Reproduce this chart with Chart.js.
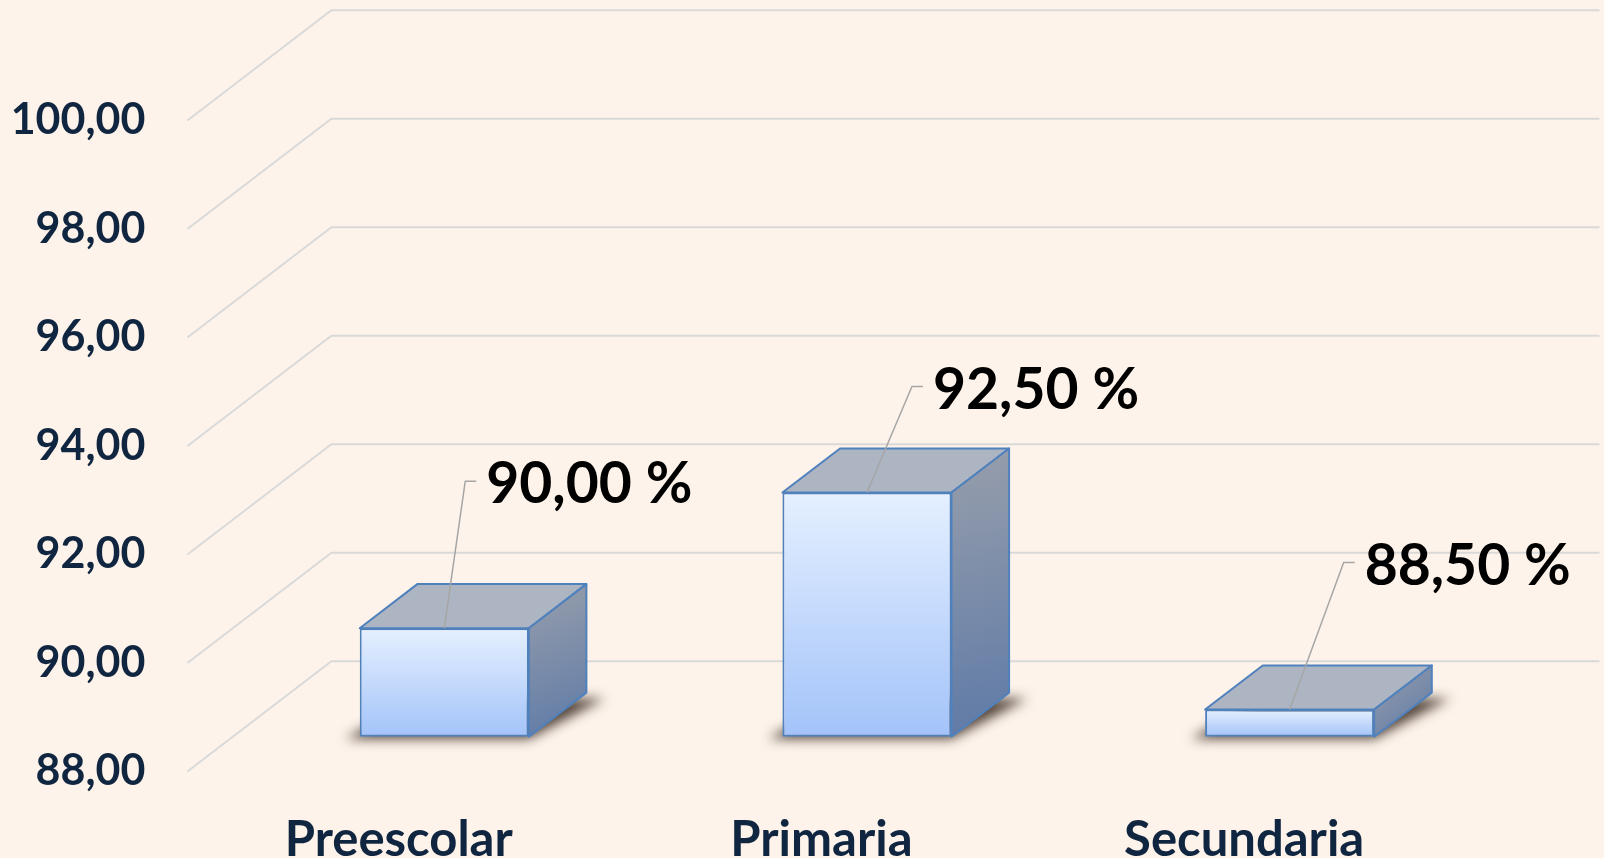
<!DOCTYPE html>
<html lang="es">
<head>
    <meta charset="UTF-8">
    <title>Porcentaje por nivel educativo</title>
    <style>
        * {
            margin: 0;
            padding: 0;
            box-sizing: border-box;
        }

        body {
            background-color: #FDF3EA;
            width: 1604px;
            height: 858px;
            overflow: hidden;
        }

        .chart-box {
            position: relative;
            width: 1604px;
            height: 858px;
        }
    </style>
    <script src="https://cdn.jsdelivr.net/npm/chart.js"></script>
</head>
<body>
    <div class="chart-box">
        <canvas id="levelsChart"></canvas>
    </div>

    <script>
        // Data
        const categories = ['Preescolar', 'Primaria', 'Secundaria'];
        const values = [90.00, 92.50, 88.50];
        const yMin = 88;
        const yMax = 100;
        const yStep = 2;

        // Where each value label sits, relative to the top front centre of its bar
        const labelOffsets = [
            { ex: 21, ey: -147, hx: 32, tx: 42, ty: -125 },
            { ex: 45, ey: -106, hx: 56, tx: 66, ty: -84 },
            { ex: 54, ey: -147, hx: 65, tx: 75, ty: -125 }
        ];

        // Fake 3D: full depth of the side wall and where the boxes stand in it
        const depthX = 144;
        const depthY = -110.2;
        const frontShare = 0.316;
        const barShare = 0.40;

        const fmt = v => v.toFixed(2).replace('.', ',');
        const textColor = '#10253F';

        const box3d = {
            id: 'box3d',
            beforeDatasetsDraw(chart) {
                const { ctx, chartArea: a, scales: { y } } = chart;

                // side wall diagonals and back wall grid lines
                ctx.save();
                ctx.strokeStyle = '#D9D9D9';
                ctx.lineWidth = 2;
                y.ticks.forEach(t => {
                    const py = y.getPixelForValue(t.value);
                    ctx.beginPath();
                    ctx.moveTo(a.left, py);
                    ctx.lineTo(a.left + depthX, py + depthY);
                    ctx.lineTo(a.right + depthX, py + depthY);
                    ctx.stroke();
                });
                ctx.restore();

                // move into the plane of the bars' front faces
                ctx.save();
                ctx.translate(depthX * frontShare, depthY * frontShare);

                // soft floor shadow: shape drawn off-canvas, only its shadow lands here
                const bx = depthX * barShare, by = depthY * barShare;
                const far = 5000;
                chart.getDatasetMeta(0).data.forEach(bar => {
                    const p = bar.getProps(['x', 'base', 'width'], true);
                    const xL = p.x - p.width / 2, xR = p.x + p.width / 2, yB = p.base;
                    ctx.save();
                    ctx.shadowColor = 'rgba(55, 40, 30, 0.85)';
                    ctx.shadowBlur = 12;
                    ctx.shadowOffsetX = far;
                    ctx.shadowOffsetY = 2;
                    ctx.fillStyle = '#000';
                    ctx.beginPath();
                    ctx.moveTo(xL - 14 - far, yB);
                    ctx.lineTo(xR - far, yB);
                    ctx.lineTo(xR + bx + 18 - far, yB + by + 4);
                    ctx.lineTo(xL + bx - far, yB + by + 4);
                    ctx.closePath();
                    ctx.fill();
                    ctx.restore();
                });
            },
            afterDatasetsDraw(chart) {
                const { ctx } = chart;
                const bx = depthX * barShare, by = depthY * barShare;

                chart.getDatasetMeta(0).data.forEach((bar, i) => {
                    const p = bar.getProps(['x', 'y', 'base', 'width'], true);
                    const xL = p.x - p.width / 2, xR = p.x + p.width / 2;
                    const yT = p.y, yB = p.base;

                    ctx.save();
                    ctx.lineWidth = 2;
                    ctx.strokeStyle = '#4F81BD';
                    ctx.lineJoin = 'round';

                    // top face
                    ctx.beginPath();
                    ctx.moveTo(xL, yT);
                    ctx.lineTo(xR, yT);
                    ctx.lineTo(xR + bx, yT + by);
                    ctx.lineTo(xL + bx, yT + by);
                    ctx.closePath();
                    ctx.fillStyle = '#ADB4C2';
                    ctx.fill();
                    ctx.stroke();

                    // side face
                    const g = ctx.createLinearGradient(xR, yT + by, xR + bx, yB);
                    g.addColorStop(0, '#979EAB');
                    g.addColorStop(1, '#5E7AA7');
                    ctx.beginPath();
                    ctx.moveTo(xR, yT);
                    ctx.lineTo(xR + bx, yT + by);
                    ctx.lineTo(xR + bx, yB + by);
                    ctx.lineTo(xR, yB);
                    ctx.closePath();
                    ctx.fillStyle = g;
                    ctx.fill();
                    ctx.stroke();

                    // leader line
                    const o = labelOffsets[i];
                    ctx.beginPath();
                    ctx.strokeStyle = '#A6A6A6';
                    ctx.lineWidth = 1.5;
                    ctx.moveTo(p.x, yT);
                    ctx.lineTo(p.x + o.ex, yT + o.ey);
                    ctx.lineTo(p.x + o.hx, yT + o.ey);
                    ctx.stroke();

                    // value label
                    ctx.fillStyle = '#000000';
                    ctx.font = 'bold 57px Lato';
                    ctx.textAlign = 'left';
                    ctx.textBaseline = 'alphabetic';
                    ctx.fillText(fmt(values[i]) + ' %', p.x + o.tx, yT + o.ty);
                    ctx.restore();
                });

                ctx.restore();
            }
        };

        const ctx = document.getElementById('levelsChart').getContext('2d');

        new Chart(ctx, {
            type: 'bar',
            data: {
                labels: categories,
                datasets: [{
                    data: values,
                    base: yMin,
                    clip: false,
                    backgroundColor: c => {
                        const ys = c.chart.scales.y;
                        if (!ys || c.raw === undefined) return '#C5DAFB';
                        const top = ys.getPixelForValue(c.raw);
                        const bot = ys.getPixelForValue(yMin);
                        if (!isFinite(top) || !isFinite(bot)) return '#C5DAFB';
                        const g = c.chart.ctx.createLinearGradient(0, top, 0, bot);
                        g.addColorStop(0, '#E5F0FF');
                        g.addColorStop(1, '#A3C3F9');
                        return g;
                    },
                    borderColor: '#4F81BD',
                    borderWidth: 2,
                    borderSkipped: false,
                    barPercentage: 0.4,
                    categoryPercentage: 1.0
                }]
            },
            options: {
                responsive: true,
                maintainAspectRatio: false,
                animation: false,
                layout: {
                    padding: { top: 120.5, right: 148.5, left: 0, bottom: 0 }
                },
                plugins: {
                    legend: { display: false },
                    tooltip: { enabled: false }
                },
                scales: {
                    x: {
                        grid: { display: false },
                        border: { display: false },
                        ticks: {
                            color: textColor,
                            font: { family: 'Lato', weight: 'bold', size: 49 },
                            padding: 31,
                            maxRotation: 0
                        },
                        afterFit: s => { s.height = 86.5; }
                    },
                    y: {
                        min: yMin,
                        max: yMax,
                        grid: { display: false, drawTicks: false },
                        border: { display: false },
                        ticks: {
                            stepSize: yStep,
                            color: textColor,
                            font: { family: 'Lato', weight: 'bold', size: 43 },
                            padding: 42,
                            callback: v => fmt(v)
                        },
                        afterFit: s => { s.width = 187.4; }
                    }
                }
            },
            plugins: [box3d]
        });
    </script>
</body>
</html>
